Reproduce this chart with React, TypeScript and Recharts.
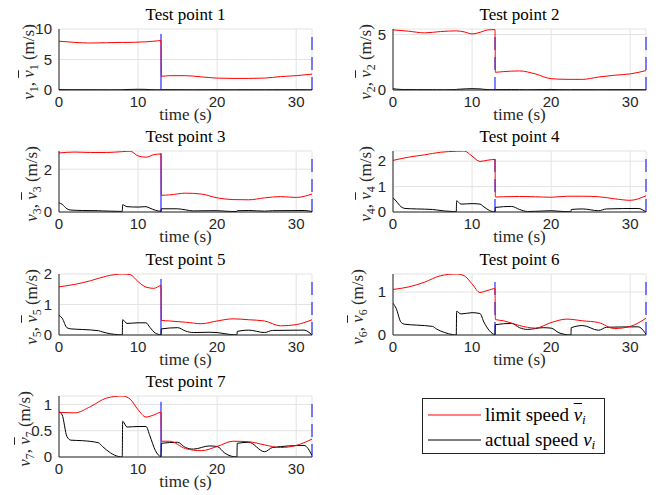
import { LineChart, Line, XAxis, YAxis, CartesianGrid, ReferenceLine } from 'recharts';

// sample times for the limit (red) and actual (black) curves
const limitTime = [0, 2, 4, 6, 8, 9, 10, 11, 12, 12.9, 12.95, 14, 16, 18, 20, 22, 24, 26, 28, 30, 32];
const actualTime = [0, 0.4, 1, 1.5, 3, 5, 5.5, 6.5, 7.5, 8.0, 8.05, 8.6, 10, 11, 11.5, 12.2, 12.9, 12.95, 15, 16, 17, 19, 20, 21, 22.5, 22.55, 24, 26, 27, 31, 32];

const limit1 = [8.0, 7.8, 7.7, 7.75, 7.8, 7.8, 7.85, 7.9, 8.0, 8.1, 2.25, 2.35, 2.35, 2.15, 1.95, 1.9, 1.9, 1.95, 2.2, 2.35, 2.6];
const limit2 = [5.42, 5.3, 5.15, 5.27, 5.33, 5.24, 5.06, 5.2, 5.42, 5.45, 1.6, 1.66, 1.72, 1.45, 1.02, 0.96, 0.96, 1.17, 1.33, 1.45, 1.75];
const limit3 = [2.76, 2.8, 2.78, 2.78, 2.82, 2.84, 2.62, 2.56, 2.68, 2.71, 0.78, 0.8, 0.88, 0.84, 0.66, 0.58, 0.57, 0.66, 0.72, 0.68, 0.84];
const limit4 = [2.03, 2.16, 2.25, 2.35, 2.39, 2.4, 2.2, 1.99, 2.04, 2.07, 0.59, 0.6, 0.61, 0.6, 0.58, 0.62, 0.62, 0.6, 0.52, 0.46, 0.64];
const limit5 = [1.58, 1.66, 1.78, 1.93, 2.0, 1.98, 1.75, 1.57, 1.53, 1.62, 0.48, 0.46, 0.42, 0.37, 0.46, 0.53, 0.5, 0.46, 0.3, 0.34, 0.5];
const limit6 = [1.06, 1.12, 1.23, 1.38, 1.42, 1.38, 1.19, 0.99, 1.04, 1.08, 0.36, 0.33, 0.22, 0.16, 0.29, 0.37, 0.33, 0.29, 0.15, 0.2, 0.39];
const limit7 = [0.85, 0.84, 0.96, 1.12, 1.16, 1.1, 0.9, 0.76, 0.8, 0.85, 0.3, 0.3, 0.16, 0.12, 0.2, 0.3, 0.29, 0.23, 0.18, 0.22, 0.34];

const actual1 = [0.08, 0.06, 0.05, 0.04, 0.04, 0.03, 0.03, 0.02, 0.03, 0.03, 0.06, 0.08, 0.12, 0.1, 0.06, 0.03, 0.02, 0.05, 0.05, 0.04, 0.03, 0.04, 0.05, 0.03, 0.02, 0.04, 0.04, 0.03, 0.04, 0.04, 0.01];
const actual2 = [0.12, 0.08, 0.05, 0.04, 0.03, 0.03, 0.02, 0.02, 0.03, 0.04, 0.06, 0.08, 0.12, 0.1, 0.06, 0.03, 0.02, 0.04, 0.04, 0.03, 0.02, 0.04, 0.05, 0.03, 0.02, 0.03, 0.03, 0.02, 0.03, 0.03, 0.01];
const actual3 = [0.43, 0.36, 0.15, 0.09, 0.07, 0.06, 0.05, 0.04, 0.03, 0.03, 0.34, 0.25, 0.23, 0.25, 0.18, 0.08, 0.03, 0.15, 0.15, 0.1, 0.05, 0.06, 0.06, 0.04, 0.02, 0.06, 0.07, 0.04, 0.06, 0.07, 0.02];
const actual4 = [0.56, 0.43, 0.21, 0.14, 0.12, 0.1, 0.08, 0.04, 0.02, 0.01, 0.44, 0.31, 0.33, 0.31, 0.2, 0.06, 0.0, 0.18, 0.22, 0.1, 0.02, 0.04, 0.05, 0.03, 0.01, 0.1, 0.12, 0.05, 0.12, 0.14, 0.0];
const actual5 = [0.65, 0.55, 0.24, 0.2, 0.18, 0.14, 0.1, 0.04, 0.01, 0.0, 0.5, 0.38, 0.4, 0.4, 0.25, 0.06, 0.01, 0.2, 0.24, 0.13, 0.08, 0.09, 0.08, 0.04, 0.0, 0.12, 0.16, 0.08, 0.15, 0.16, 0.0];
const actual6 = [0.74, 0.62, 0.3, 0.25, 0.23, 0.2, 0.14, 0.06, 0.01, 0.0, 0.55, 0.49, 0.52, 0.5, 0.3, 0.1, 0.01, 0.24, 0.27, 0.17, 0.13, 0.17, 0.16, 0.05, 0.0, 0.17, 0.22, 0.11, 0.18, 0.19, 0.02];
const actual7 = [0.86, 0.8, 0.39, 0.32, 0.31, 0.27, 0.2, 0.08, 0.01, 0.0, 0.68, 0.57, 0.58, 0.58, 0.4, 0.12, 0.01, 0.26, 0.28, 0.18, 0.15, 0.21, 0.2, 0.07, 0.0, 0.26, 0.28, 0.1, 0.18, 0.22, 0.03];

const limits = [limit1, limit2, limit3, limit4, limit5, limit6, limit7];
const actuals = [actual1, actual2, actual3, actual4, actual5, actual6, actual7];

const yMax = [10, 5.5, 2.85, 2.4, 2, 1.42, 1.16];
const yTicks = [[0, 5, 10], [0, 5], [0, 1, 2], [0, 1, 2], [0, 1, 2], [0, 0.5, 1], [0, 0.5, 1]];
const markerTop = [9.2, 5, 2.75, 2.18, 1.84, 1.28, 1.05];
const xTicks = [0, 10, 20, 30];
const switchTime = 12.9;
const endTime = 32;

const PLOT_LEFT = [59, 393];
const PLOT_TOP = [29, 151, 274, 396];
const PLOT_W = 253;
const PLOT_H = 61;
const AXIS_W = 58;
const M_TOP = 28;
// ylabel sits further left when tick labels are wider (10, 0.5)
const LABEL_GAP = [30, 27, 27, 27, 27, 35, 34];

const serif = '"Liberation Serif", serif';
const sans = '"Liberation Sans", Arial, sans-serif';
const ink = '#262626';

const toPoints = (times: number[], vals: number[]) => times.map((t, i) => ({ t, v: vals[i] }));

const Sub = ({ children }: any) => (
  <span style={{ fontSize: '0.7em', position: 'relative', top: '0.3em' }}>{children}</span>
);
const V = () => <i>v</i>;
const VBar = () => <i style={{ textDecoration: 'overline' }}>v</i>;

function Panel({ idx }: { idx: number }) {
  const col = idx % 2;
  const row = Math.floor(idx / 2);
  const left = PLOT_LEFT[col] - AXIS_W;
  const top = PLOT_TOP[row] - M_TOP;
  const n = idx + 1;
  const width = AXIS_W + PLOT_W + 12;
  const height = M_TOP + PLOT_H + 35;
  const h = markerTop[idx];
  return (
    <div style={{ position: 'absolute', left, top, width, height }}>
      <LineChart width={width} height={height} margin={{ top: M_TOP, right: 12, left: 0, bottom: 5 }}>
        <CartesianGrid stroke="#e3e3e3" />
        <XAxis
          dataKey="t"
          type="number"
          domain={[0, endTime]}
          ticks={xTicks}
          allowDataOverflow
          height={30}
          tickLine={false}
          tickSize={4}
          tickMargin={2}
          axisLine={{ stroke: ink }}
          tick={{ fill: ink, fontSize: 15, fontFamily: sans }}
        />
        <YAxis
          type="number"
          domain={[0, yMax[idx]]}
          ticks={yTicks[idx]}
          allowDataOverflow
          width={AXIS_W}
          tickLine={false}
          tickSize={4}
          tickMargin={3}
          axisLine={{ stroke: ink }}
          tick={{ fill: ink, fontSize: 15, fontFamily: sans }}
        />
        <ReferenceLine
          segment={[{ x: switchTime, y: 0 }, { x: switchTime, y: h }]}
          stroke="#0000ff"
          strokeWidth={1}
          strokeDasharray={col === 1 ? '13 7' : undefined}
        />
        <ReferenceLine
          segment={[{ x: endTime, y: 0 }, { x: endTime, y: h }]}
          stroke="#0000ff"
          strokeWidth={1}
          strokeDasharray="13 7"
        />
        <Line
          data={toPoints(actualTime, actuals[idx])}
          dataKey="v"
          type="monotone"
          stroke="#000000"
          strokeWidth={1}
          dot={false}
          isAnimationActive={false}
        />
        <Line
          data={toPoints(limitTime, limits[idx])}
          dataKey="v"
          type="monotone"
          stroke="#ff0000"
          strokeWidth={1}
          dot={false}
          isAnimationActive={false}
        />
      </LineChart>
      <div style={{
        position: 'absolute', left: AXIS_W, width: PLOT_W, top: M_TOP - 14,
        transform: 'translateY(-50%)', textAlign: 'center', fontFamily: serif, fontSize: 17, color: '#000',
      }}>
        Test point {n}
      </div>
      <div style={{
        position: 'absolute', left: AXIS_W, width: PLOT_W, top: M_TOP + PLOT_H + 25,
        transform: 'translateY(-50%)', textAlign: 'center', fontFamily: serif, fontSize: 17, color: ink,
      }}>
        time (s)
      </div>
      <div style={{
        position: 'absolute', left: AXIS_W - LABEL_GAP[idx], top: M_TOP + PLOT_H / 2 + 2,
        transform: 'translate(-50%, -50%) rotate(-90deg)', whiteSpace: 'nowrap',
        fontFamily: serif, fontSize: 17, color: ink,
      }}>
        <V /><Sub>{n}</Sub>, <VBar /><Sub>{n}</Sub> (m/s)
      </div>
    </div>
  );
}

function LegendBox() {
  const row = (color: string, label: any) => (
    <div style={{ display: 'flex', alignItems: 'center', height: 25 }}>
      <svg width={58} height={4} style={{ marginRight: 4 }}>
        <line x1={5} y1={2} x2={58} y2={2} stroke={color} strokeWidth={1} />
      </svg>
      <span>{label}</span>
    </div>
  );
  return (
    <div style={{
      position: 'absolute', left: 422, top: 398, width: 183, height: 56, boxSizing: 'border-box',
      border: `1px solid ${ink}`, background: '#fff', fontFamily: serif, fontSize: 19, color: '#000',
      paddingTop: 3,
    }}>
      {row('#ff0000', <>limit speed <VBar /><Sub><i>i</i></Sub></>)}
      {row('#000000', <>actual speed <V /><Sub><i>i</i></Sub></>)}
    </div>
  );
}

export default function App() {
  return (
    <div style={{ position: 'absolute', left: 0, top: 0, width: 658, height: 495, background: '#fff' }}>
      {[0, 1, 2, 3, 4, 5, 6].map((i) => <Panel key={i} idx={i} />)}
      <LegendBox />
    </div>
  );
}
